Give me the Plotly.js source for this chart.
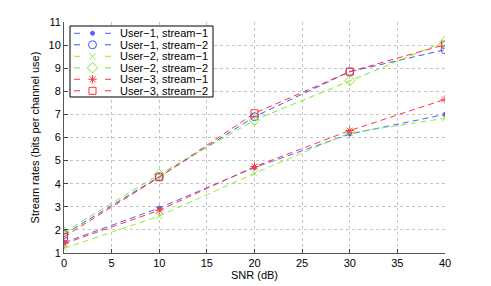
<!DOCTYPE html>
<html><head><meta charset="utf-8">
<script src="https://cdn.plot.ly/plotly-3.0.1.min.js"></script>
<style>html,body{margin:0;padding:0;background:#fff}#chart{width:491px;height:286px}</style>
</head><body><div id="chart"></div>
<script>
const snr = [0, 10, 20, 30, 40];
const names = ["User\u22121, stream\u22121","User\u22121, stream\u22122","User\u22122, stream\u22121","User\u22122, stream\u22122","User\u22123, stream\u22121","User\u22123, stream\u22122"];
const u1s1 = [1.45, 2.95, 4.7, 6.15, 7.0];
const u1s2 = [1.8, 4.3, 6.9, 8.85, 9.8];
const u2s1 = [1.2, 2.6, 4.45, 6.2, 6.83];
const u2s2 = [1.9, 4.4, 6.75, 8.46, 10.15];
const u3s1 = [1.4, 2.85, 4.74, 6.3, 7.65];
const u3s2 = [1.7, 4.28, 7.05, 8.85, 10.02];

const series = [u1s1,u1s2,u2s1,u2s2,u3s1,u3s2];
const colors = ["#4f63ff","#3a55ff","#8cf040","#77ee22","#ff3838","#ff3030"];
const symbols = ["circle","circle-open","x-thin-open","diamond-open","asterisk-open","square-open"];
const sizes = [4,8,6,8,7,7];

const W = 491, H = 286, ML = 64, MR = 46, MT = 22, MB = 33;

const traces = series.map((y,i)=>({
  x: snr, y: y, name: names[i], type:"scatter", mode:"lines+markers", showlegend:false,
  line:{color:colors[i], width:1, dash:"6px,4px"},
  marker:{symbol:symbols[i], size:sizes[i], color:colors[i], line:{color:colors[i], width:1}}
}));

// custom legend in pixel coordinates (overlay axes x2/y2)
const lgL = 70, lgR = 213, lgT = 26, lgB = 97, rowY0 = 33.3, rowDY = 11.5;
traces.push({x:[lgL,lgR,lgR,lgL,lgL], y:[lgT,lgT,lgB,lgB,lgT], xaxis:"x2", yaxis:"y2",
  type:"scatter", mode:"lines", fill:"toself", fillcolor:"#fff", line:{color:"#000", width:1},
  showlegend:false, hoverinfo:"skip"});
names.forEach((n,i)=>{
  const yy = rowY0 + i*rowDY;
  traces.push({x:[74,80,null,105,111], y:[yy,yy,null,yy,yy], xaxis:"x2", yaxis:"y2",
    type:"scatter", mode:"lines", line:{color:colors[i], width:1}, showlegend:false, hoverinfo:"skip"});
  traces.push({x:[92.5], y:[yy], xaxis:"x2", yaxis:"y2", type:"scatter", mode:"markers",
    marker:{symbol:symbols[i], size:sizes[i], color:colors[i], line:{color:colors[i], width:1}},
    showlegend:false, hoverinfo:"skip", cliponaxis:false});
});
const annotations = names.map((n,i)=>({
  xref:"x2", yref:"y2", x:118, y:rowY0 + i*rowDY, xanchor:"left", yanchor:"middle",
  text:n, showarrow:false, font:{size:11, color:"#000"}
}));

const layout = {
  width:W, height:H,
  margin:{l:ML, r:MR, t:MT, b:MB},
  paper_bgcolor:"#fff", plot_bgcolor:"#fff",
  font:{family:"Liberation Sans, Arial, sans-serif", size:11, color:"#000"},
  showlegend:false,
  annotations: annotations,
  xaxis:{range:[0,40], tickvals:[0,5,10,15,20,25,30,35,40], ticks:"inside", ticklen:4,
    showline:true, linecolor:"#555", linewidth:1, mirror:false,
    showgrid:true, gridcolor:"#c4c4c4", griddash:"dot", gridwidth:1, zeroline:false,
    title:{text:"SNR (dB)", standoff:2, font:{size:11}}},
  yaxis:{range:[1,11], tickvals:[1,2,3,4,5,6,7,8,9,10,11], ticks:"inside", ticklen:4,
    showline:true, linecolor:"#555", linewidth:1, mirror:false,
    showgrid:true, gridcolor:"#c4c4c4", griddash:"dot", gridwidth:1, zeroline:false,
    title:{text:"Stream rates (bits per channel use)", standoff:6, font:{size:11}}},
  xaxis2:{overlaying:"x", range:[ML, W-MR], visible:false, showgrid:false, zeroline:false, fixedrange:true},
  yaxis2:{overlaying:"y", range:[H-MB, MT], visible:false, showgrid:false, zeroline:false, fixedrange:true}
};
Plotly.newPlot("chart", traces, layout, {displayModeBar:false, staticPlot:true});
</script></body></html>
